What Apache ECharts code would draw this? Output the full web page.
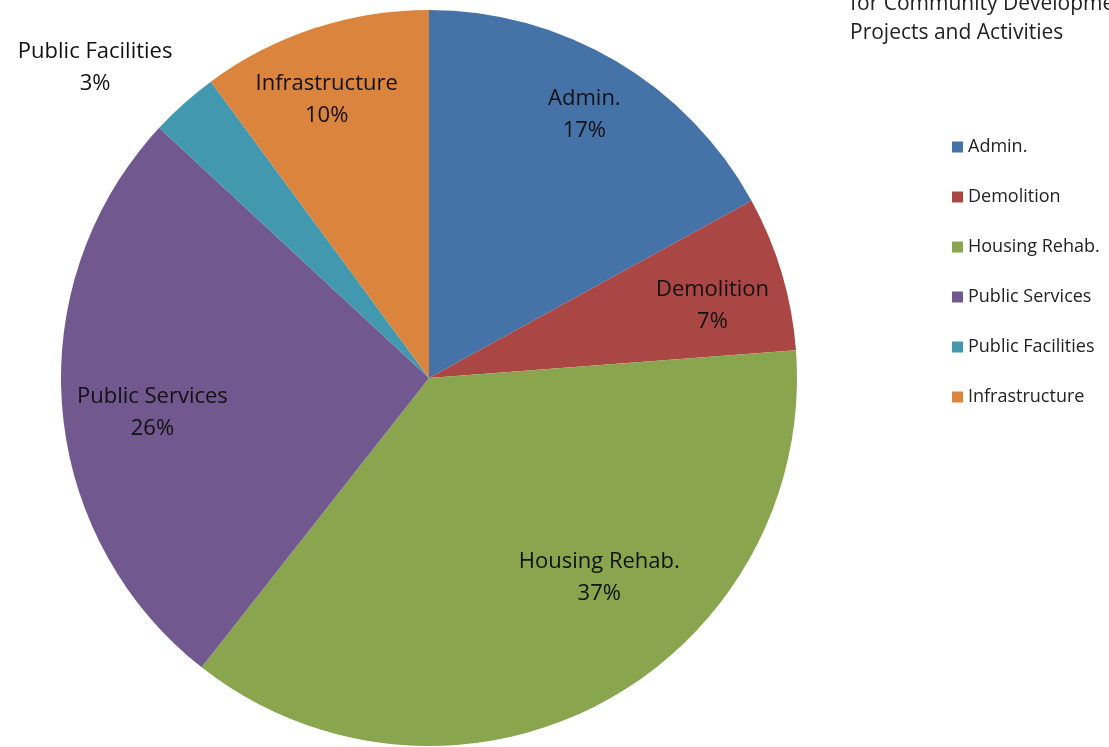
<!DOCTYPE html>
<html>
<head>
<meta charset="utf-8">
<script src="https://cdn.jsdelivr.net/npm/echarts@6/dist/echarts.min.js"></script>
<style>
  html, body { margin: 0; padding: 0; background: #fff; }
  #chart { width: 1109px; height: 747px; }
</style>
</head>
<body>
<div id="chart"></div>
<script>
const categories = ['Admin.', 'Demolition', 'Housing Rehab.', 'Public Services', 'Public Facilities', 'Infrastructure'];
const shares = [17.0, 6.8, 36.8, 26.3, 3.0, 10.1];
const colors = ['#4572A7', '#AA4643', '#89A54E', '#71588F', '#4198AF', '#DB843D'];
const titleLines = ['for Community Development', 'Projects and Activities'];

const font = '"Open Sans", "Noto Sans", sans-serif';

// small nudges so the labels sit where the best-fit layout put them
const labelNudge = {
  'Admin.': [8, -14],
  'Demolition': [6, 10],
  'Housing Rehab.': [34, -56],
  'Public Services': [12, 12],
  'Public Facilities': [14, -6],
  'Infrastructure': [-12, -3]
};

const chart = echarts.init(document.getElementById('chart'));

const pieData = categories.map((name, i) => ({
  name: name,
  value: shares[i],
  itemStyle: { color: colors[i] }
}));

// transparent ring on top of the pie, only there to carry the labels further out
const labelData = categories.map((name, i) => {
  const item = { name: name, value: shares[i], itemStyle: { color: 'transparent' } };
  if (name === 'Public Facilities') {
    item.label = {
      position: 'outside',
      alignTo: 'none',
      overflow: 'none',
      offset: labelNudge[name],
      formatter: '{c|{b}}\n{c|{d}%}',
      rich: {
        c: { width: 180, align: 'center', fontFamily: font, fontSize: 22, lineHeight: 32, color: '#111' }
      }
    };
  } else if (labelNudge[name]) {
    item.label = { offset: labelNudge[name] };
  }
  return item;
});

chart.setOption({
  backgroundColor: '#fff',
  animation: false,
  color: colors,
  title: {
    text: titleLines.join('\n'),
    left: 845,
    top: -15,
    textStyle: {
      fontFamily: font,
      fontWeight: 'normal',
      fontSize: 21,
      color: '#222',
      lineHeight: 29
    }
  },
  legend: {
    orient: 'vertical',
    left: 947,
    top: 133,
    itemWidth: 11,
    itemHeight: 11,
    itemGap: 32,
    icon: 'rect',
    data: categories,
    textStyle: {
      fontFamily: font,
      fontSize: 18,
      color: '#222'
    }
  },
  series: [
    {
      name: 'Funds',
      type: 'pie',
      center: [429, 378],
      radius: [0, 368],
      startAngle: 90,
      clockwise: true,
      label: { show: false },
      labelLine: { show: false },
      emphasis: { disabled: true },
      data: pieData
    },
    {
      name: 'Labels',
      type: 'pie',
      center: [429, 378],
      radius: [205, 368],
      startAngle: 90,
      clockwise: true,
      silent: true,
      percentPrecision: 0,
      label: {
        show: true,
        position: 'inside',
        formatter: '{b}\n{d}%',
        fontFamily: font,
        fontSize: 22,
        lineHeight: 32,
        color: '#111'
      },
      labelLine: { show: false, length: 40, length2: 0 },
      emphasis: { disabled: true },
      data: labelData
    }
  ]
});
</script>
</body>
</html>
